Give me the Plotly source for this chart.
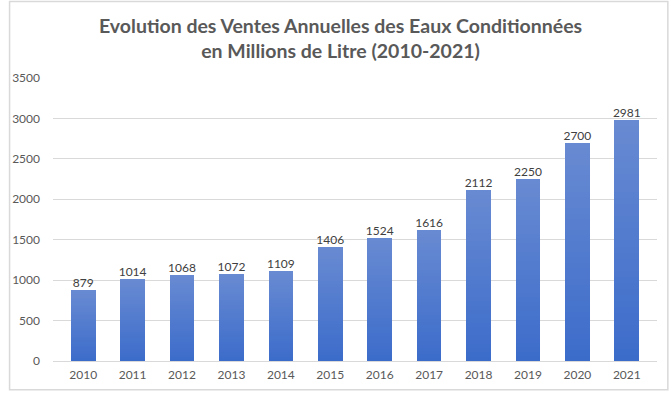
import plotly.graph_objects as go

years = ["2010", "2011", "2012", "2013", "2014", "2015", "2016", "2017", "2018", "2019", "2020", "2021"]
ventes = [879, 1014, 1068, 1072, 1109, 1406, 1524, 1616, 2112, 2250, 2700, 2981]
y_ticks = [0, 500, 1000, 1500, 2000, 2500, 3000, 3500]

title_text = "Evolution des Ventes Annuelles des Eaux Conditionnées<br>en Millions de Litre (2010-2021)"

# gradient approximated by stacking slices of each bar
N = 40
bottom = (60, 108, 202)
top = (104, 138, 210)

fig = go.Figure()
for i in range(N):
    t = i / (N - 1)
    c = tuple(round(bottom[k] + (top[k] - bottom[k]) * t) for k in range(3))
    fig.add_trace(go.Bar(
        x=years, y=[v / N for v in ventes],
        marker=dict(color=f"rgb{c}", line=dict(width=0)),
        width=0.5, showlegend=False, hoverinfo="skip",
    ))

fig.add_trace(go.Scatter(
    x=years, y=ventes, mode="text", text=[str(v) for v in ventes],
    textposition="top center",
    textfont=dict(family="Lato, sans-serif", size=12, color="#404040"),
    showlegend=False, hoverinfo="skip",
))

L, R, T, B = 45, 15, 78, 31
PW, PH = 672 - L - R, 394 - T - B

fig.update_layout(
    width=672, height=394,
    barmode="stack", bargap=0.5,
    paper_bgcolor="white", plot_bgcolor="white",
    margin=dict(l=L, r=R, t=T, b=B),
    xaxis=dict(showgrid=False, showline=False, ticks="", ticklabelstandoff=5,
               tickfont=dict(family="Lato, sans-serif", size=12, color="#595959")),
    yaxis=dict(range=[0, 3500], tickvals=y_ticks, showgrid=True, gridcolor="#d9d9d9",
               gridwidth=1, zeroline=True, zerolinecolor="#d9d9d9", zerolinewidth=1,
               showline=False, ticks="", ticklabelstandoff=12,
               tickfont=dict(family="Lato, sans-serif", size=12, color="#595959")),
)

fig.add_annotation(
    text=title_text, showarrow=False,
    xref="paper", yref="paper",
    x=(336 - L) / PW, y=(394 - B - 12) / PH, xanchor="center", yanchor="top",
    font=dict(family="Lato, sans-serif", size=19.5, color="#595959", weight="bold"),
)

# outer chart border
fig.add_shape(type="rect", xref="paper", yref="paper",
              x0=(1 - L) / PW, x1=(668 - L) / PW,
              y0=(394 - B - 392) / PH, y1=(394 - B - 1) / PH,
              line=dict(color="#d9d9d9", width=1.5), fillcolor="rgba(0,0,0,0)", layer="below")

fig.write_html("out.html", config={"displayModeBar": False},
               post_script="document.body.style.margin='0';")
